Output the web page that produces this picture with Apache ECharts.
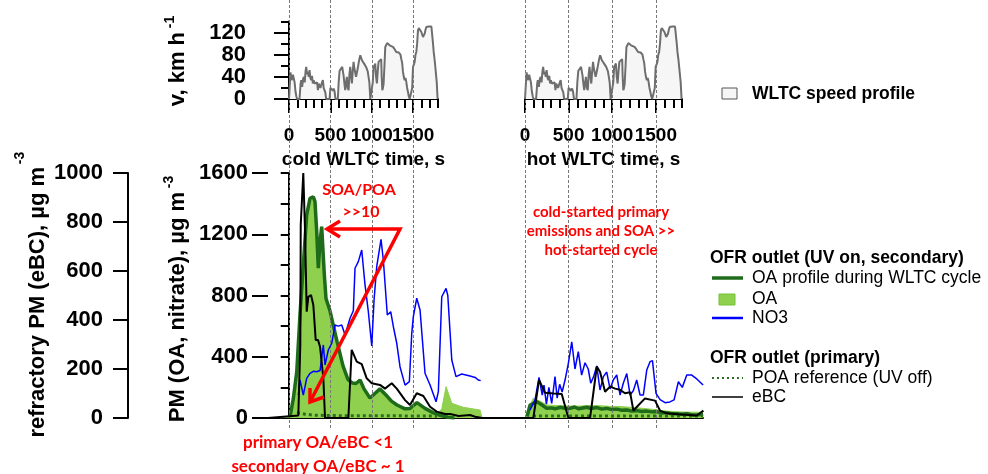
<!DOCTYPE html>
<html>
<head>
<meta charset="utf-8">
<script src="https://cdn.jsdelivr.net/npm/echarts@6/dist/echarts.min.js"></script>
<style>
  html, body { margin: 0; padding: 0; background: #fff; }
  #chart { width: 988px; height: 474px; }
</style>
</head>
<body>
<div id="chart"></div>
<script>
// WLTC speed profile (cycle time s, km/h) - same for cold and hot run
const speedT = [0,12,18,28,38,48,58,68,79,90,98,127,140,147,159,169,179,190,200,208,218,228,238,248,258,268,278,288,298,308,318,329,339,349,359,369,379,389,399,409,419,429,439,449,490,500,510,520,530,540,550,562,590,600,611,627,643,651,659,669,679,689,699,709,720,730,740,750,760,770,780,790,800,810,820,830,840,850,861,871,881,891,901,911,921,931,941,951,961,971,982,1002,1012,1022,1032,1042,1052,1062,1072,1082,1092,1102,1114,1120,1127,1135,1143,1153,1163,1175,1185,1196,1206,1216,1236,1256,1276,1296,1316,1326,1337,1347,1357,1367,1377,1387,1397,1407,1417,1427,1437,1447,1458,1478,1488,1498,1508,1518,1528,1538,1548,1558,1568,1578,1588,1599,1609,1619,1629,1639,1649,1659,1669,1679,1690,1699,1710,1720,1732,1740,1748,1760,1772,1785,1795,1800];
const speedV = [0,0,48,38,34,44,41,30,13,4,0,0,28,34,22,35,40,30,50,58,45,49,40,52,38,34,42,28,34,28,30,25,30,16,28,30,20,22,30,34,20,19,12,0,0,20,21,23,15,19,14,0,0,30,51,50,58,50,43,28,16,30,40,20,16,45,58,40,28,50,67,55,52,40,40,55,64,72,79,75,70,72,67,63,61,58,58,50,49,30,0,0,30,58,60,64,40,28,50,67,70,70,72,40,16,20,28,60,94,97,101,101,99,97,97,94,90,85,82,84,82,80,72,65,49,40,34,38,31,20,13,5,0,0,20,58,62,67,80,85,100,124,128,130,125,121,118,112,115,118,125,130,128,131,131,132,130,131,128,100,85,70,67,30,0,0];

// cycle marks (dashed lines, labelled ticks), s
const cycleMarks = [0, 500, 1000, 1500];

// lower panel: elapsed time s (hot cycle starts near 2850 s)
// OA profile during WLTC cycle (dark green line), ug/m3
const oaLineT = [16,56,97,136,176,217,257,297,317,338,357,378,398,418,430,450,498,583,655,716,770,812,861,909,981,1040,1102,1174,1240,1307,1404,1464,1548,1645,1741,1826,1922,2000,2400,2877,2913,2993,3045,3114,3170,3214,3280,3340,3395,3450,3500,3597,3650,3721,3780,3842,3900,3963,4020,4080,4140,4204,4260,4325,4380,4442,4500,4562,4620,4687,4750,4808,4870,4925,5001];
const oaLineV = [8,128,302,673,999,1326,1435,1445,1413,1217,978,1151,1250,1239,934,780,700,500,340,250,228,225,248,190,130,160,190,150,110,85,60,62,100,63,35,18,5,0,null,10,85,106,90,63,66,60,70,62,63,72,60,70,62,68,58,63,55,58,50,52,45,48,42,45,40,42,33,35,28,28,24,28,20,20,25];

// OA (light green area), ug/m3
const oaFillT = [-105,-20,16,56,97,136,176,217,257,297,317,338,357,378,398,418,430,450,498,583,655,716,770,812,861,909,981,1040,1102,1174,1240,1307,1404,1464,1548,1645,1741,1800,1847,1899,1968,2107,2309,2329,2333,2400,2852,2877,2952,3033,3114,3200,3275,3400,3516,3640,3757,3880,3999,4120,4240,4330,4421,4490,4562,4640,4723,4850,4965,5001];
const oaFillV = [0,8,12,128,302,673,999,1326,1435,1445,1413,1217,978,1151,1250,1239,934,780,700,500,340,250,228,225,248,190,130,160,190,150,110,85,60,62,100,63,35,30,60,205,96,70,52,50,0,null,0,40,129,110,85,82,80,78,78,82,80,76,75,70,65,60,55,50,45,42,40,38,38,40];

// POA reference (UV off), ug/m3
const poaT = [100,197,317,620,1343,1790,2400,2948,5001];
const poaV = [35,25,18,15,14,12,null,13,13];

// NO3, ug/m3
const no3T = [116,136,176,217,257,297,338,378,418,438,478,519,559,599,640,680,740,780,800,840,881,921,961,1002,1030,1062,1114,1142,1190,1231,1263,1304,1343,1404,1456,1485,1504,1545,1585,1645,1706,1778,1806,1847,1899,1920,1968,2019,2088,2188,2250,2288,2317,2600,2913,2973,3021,3060,3081,3110,3140,3174,3214,3240,3270,3300,3335,3375,3416,3455,3495,3535,3576,3615,3645,3680,3718,3757,3798,3838,3878,3919,3959,3999,4040,4080,4120,4160,4200,4240,4280,4321,4361,4390,4433,4482,4542,4600,4651,4703,4750,4804,4860,4925,5001];
const no3V = [150,248,150,259,292,305,302,310,477,346,444,488,607,600,607,542,651,700,978,1021,1097,869,694,470,771,988,1167,1032,673,694,596,488,335,215,237,553,662,782,705,292,215,106,172,792,847,800,379,270,287,274,265,248,244,null,52,118,266,150,215,90,200,96,270,130,220,170,248,357,498,320,433,280,361,320,227,270,340,183,270,300,190,250,281,150,230,290,150,180,248,150,150,313,368,375,161,120,100,105,118,237,200,281,281,255,215];

// eBC (refractory PM), ug/m3
const ebcT = [-250,116,140,145,176,197,217,237,269,297,326,354,378,398,418,438,720,760,821,881,941,1002,1102,1162,1243,1304,1404,1464,1545,1625,1706,1786,1887,1950,2050,2188,2250,2333,2952,3021,3093,3200,3295,3375,3637,3718,3757,3818,3878,3940,3999,4059,4120,4160,4200,4300,4421,4482,4562,4700,4925,5005];
const ebcV = [0,10,300,788,1000,760,434,495,502,461,318,318,291,291,162,0,0,278,230,220,162,142,135,120,142,120,73,53,101,90,46,26,16,16,8,12,5,0,0,155,103,100,98,0,0,210,189,107,128,120,115,101,105,30,45,80,71,30,19,15,10,30];

const pairs = (t, v) => t.map((x, i) => [x, v[i]]);

const FONT = 'Liberation Sans';
const RED = '#ff0000';
const plain = (v) => String(v);
const bold = (size) => ({ fontFamily: FONT, fontWeight: 'bold', fontSize: size, color: '#000' });
const tickLabel = (size, extra) => Object.assign({ formatter: plain, hideOverlap: false, showMinLabel: true, showMaxLabel: true }, bold(size), extra);

const chart = echarts.init(document.getElementById('chart'));

// the 1000 and 1500 labels touch, so they sit on separate overlaid axes
function topXAxes(grid, name) {
  const base = { type: 'value', gridIndex: grid, position: 'bottom', min: 0, max: 1800, splitLine: { show: false } };
  return [
    Object.assign({}, base, {
      interval: 100,
      axisLine: { lineStyle: { color: '#000', width: 2 } },
      axisTick: { length: 9, lineStyle: { color: '#000', width: 2 } },
      axisLabel: { show: false }
    }),
    Object.assign({}, base, {
      interval: 500,
      axisLine: { show: false },
      axisTick: { length: 14, customValues: cycleMarks, lineStyle: { color: '#000', width: 2 } },
      axisLabel: tickLabel(19, { customValues: cycleMarks.filter((v, i) => i % 2 === 0), margin: 27 }),
      name: name, nameLocation: 'middle', nameGap: 51, nameTextStyle: bold(19)
    }),
    Object.assign({}, base, {
      interval: 500,
      axisLine: { show: false },
      axisTick: { show: false },
      axisLabel: tickLabel(19, { customValues: cycleMarks.filter((v, i) => i % 2 === 1), margin: 27 })
    })
  ];
}

function guideSeries(xi, yi) {
  return {
    type: 'line', xAxisIndex: xi, yAxisIndex: yi, data: [[0, 0]], showSymbol: false, silent: true, z: 0,
    lineStyle: { opacity: 0 },
    markLine: {
      silent: true, symbol: ['none', 'none'], label: { show: false },
      lineStyle: { type: [3, 2], color: '#777', width: 1 },
      data: cycleMarks.map(v => ({ xAxis: v }))
    }
  };
}

const hiddenAxis = (grid, min, max) => ({
  type: 'value', gridIndex: grid, min: min, max: max, show: false
});

const option = {
  animation: false,
  grid: [
    { left: 289, top: 21.5, width: 149, height: 77.5 },
    { left: 525, top: 21.5, width: 157, height: 77.5 },
    { left: 268, top: 173, width: 435, height: 245 },
    { left: 289, top: 0, width: 149, height: 428 },
    { left: 525, top: 0, width: 157, height: 428 }
  ],
  // x axes: 0-2 cold speed, 3-5 hot speed, 6 lower panel, 7-8 dashed guides
  xAxis: [
    ...topXAxes(0, 'cold WLTC time, s'),
    ...topXAxes(1, 'hot WLTC time, s'),
    {
      type: 'value', gridIndex: 2, position: 'bottom', offset: 10, min: -250, max: 5000,
      axisLine: { lineStyle: { color: '#000', width: 2 } },
      axisTick: { show: false }, axisLabel: { show: false }, splitLine: { show: false }
    },
    hiddenAxis(3, 0, 1800),
    hiddenAxis(4, 0, 1800)
  ],
  yAxis: [
    {
      type: 'value', gridIndex: 0, position: 'left', offset: 21, min: 0, max: 140, interval: 20,
      axisLine: { show: true, lineStyle: { color: '#000', width: 2 } },
      axisTick: { show: true, length: 8, lineStyle: { color: '#000', width: 2 } },
      axisLabel: { show: false }, splitLine: { show: false }
    },
    {
      type: 'value', gridIndex: 0, position: 'left', offset: 21, min: 0, max: 140, interval: 20,
      axisLine: { show: false },
      axisTick: { show: true, length: 15, customValues: [0, 40, 80, 120], lineStyle: { color: '#000', width: 2 } },
      axisLabel: tickLabel(22, { customValues: [0, 40, 80, 120], margin: 22 }),
      splitLine: { show: false }
    },
    hiddenAxis(1, 0, 140),
    {
      type: 'value', gridIndex: 2, position: 'left', min: 0, max: 1600, interval: 200,
      axisLine: { show: true, lineStyle: { color: '#000', width: 2 } },
      axisTick: { show: true, length: 8, lineStyle: { color: '#000', width: 2 } },
      axisLabel: { show: false }, splitLine: { show: false }
    },
    {
      type: 'value', gridIndex: 2, position: 'left', min: 0, max: 1600, interval: 200,
      axisLine: { show: false },
      axisTick: { show: true, length: 16, customValues: [0, 400, 800, 1200, 1600], lineStyle: { color: '#000', width: 2 } },
      axisLabel: tickLabel(22, { customValues: [0, 400, 800, 1200, 1600], margin: 20 }),
      splitLine: { show: false }
    },
    {
      type: 'value', gridIndex: 2, position: 'left', offset: 140, min: 0, max: 1000, interval: 200,
      axisLine: { show: true, lineStyle: { color: '#000', width: 2 } },
      axisTick: { show: true, length: 15, lineStyle: { color: '#000', width: 2 } },
      axisLabel: tickLabel(22, { margin: 25 }),
      splitLine: { show: false }
    },
    hiddenAxis(3, 0, 1),
    hiddenAxis(4, 0, 1)
  ],
  series: [
    guideSeries(7, 6),
    guideSeries(8, 7),
    {
      name: 'WLTC cold', type: 'line', xAxisIndex: 0, yAxisIndex: 0, data: pairs(speedT, speedV),
      showSymbol: false, lineStyle: { color: '#6e6e6e', width: 2 }, areaStyle: { color: '#f6f6f6', opacity: 1 }, z: 3
    },
    {
      name: 'WLTC hot', type: 'line', xAxisIndex: 3, yAxisIndex: 2, data: pairs(speedT, speedV),
      showSymbol: false, lineStyle: { color: '#6e6e6e', width: 2 }, areaStyle: { color: '#f6f6f6', opacity: 1 }, z: 3
    },
    {
      name: 'OA', type: 'line', xAxisIndex: 6, yAxisIndex: 3, data: pairs(oaFillT, oaFillV),
      showSymbol: false, lineStyle: { color: '#8fd14f', width: 1 }, areaStyle: { color: '#8fd14f', opacity: 1 }, z: 3
    },
    {
      name: 'OA profile during WLTC cycle', type: 'line', xAxisIndex: 6, yAxisIndex: 3, data: pairs(oaLineT, oaLineV),
      showSymbol: false, lineStyle: { color: '#1e6b1a', width: 3.5 }, z: 4
    },
    {
      name: 'POA reference (UV off)', type: 'line', xAxisIndex: 6, yAxisIndex: 3, data: pairs(poaT, poaV),
      showSymbol: false, lineStyle: { color: '#2e6e22', width: 3, type: [3, 3] }, z: 5
    },
    {
      name: 'NO3', type: 'line', xAxisIndex: 6, yAxisIndex: 3, data: pairs(no3T, no3V),
      showSymbol: false, lineStyle: { color: '#0000ff', width: 1.5 }, z: 5
    },
    {
      name: 'eBC', type: 'line', xAxisIndex: 6, yAxisIndex: 5, data: pairs(ebcT, ebcV),
      showSymbol: false, lineStyle: { color: '#000', width: 2 }, z: 6
    }
  ],
  graphic: [
    // axis titles
    { type: 'text', x: 38, y: 167, rotation: Math.PI / 2, style: { text: 'refractory PM (eBC), µg m', align: 'right', verticalAlign: 'middle', font: 'bold 22px "Liberation Sans"', fill: '#000' } },
    { type: 'text', x: 20, y: 158, rotation: Math.PI / 2, style: { text: '-3', align: 'center', verticalAlign: 'middle', font: 'bold 14px "Liberation Sans"', fill: '#000' } },
    { type: 'text', x: 178, y: 192, rotation: Math.PI / 2, style: { text: 'PM (OA, nitrate), µg m', align: 'right', verticalAlign: 'middle', font: 'bold 22px "Liberation Sans"', fill: '#000' } },
    { type: 'text', x: 169, y: 182, rotation: Math.PI / 2, style: { text: '-3', align: 'center', verticalAlign: 'middle', font: 'bold 14px "Liberation Sans"', fill: '#000' } },
    { type: 'text', x: 178, y: 32, rotation: Math.PI / 2, style: { text: 'v, km h', align: 'right', verticalAlign: 'middle', font: 'bold 22px "Liberation Sans"', fill: '#000' } },
    { type: 'text', x: 170, y: 22, rotation: Math.PI / 2, style: { text: '-1', align: 'center', verticalAlign: 'middle', font: 'bold 14px "Liberation Sans"', fill: '#000' } },

    // speed legend
    { type: 'rect', shape: { x: 722, y: 88, width: 15, height: 11 }, style: { fill: '#f6f6f6', stroke: '#555', lineWidth: 1 } },
    { type: 'text', x: 752, y: 94, style: { text: 'WLTC speed profile', verticalAlign: 'middle', font: 'bold 17.5px "Liberation Sans"', fill: '#000' } },

    // PM legend
    { type: 'text', x: 710, y: 258, style: { text: 'OFR outlet (UV on, secondary)', verticalAlign: 'middle', font: 'bold 17.5px "Liberation Sans"', fill: '#000' } },
    { type: 'line', shape: { x1: 712, y1: 278, x2: 743, y2: 278 }, style: { stroke: '#1e6b1a', lineWidth: 3.5 } },
    { type: 'text', x: 752, y: 278, style: { text: 'OA profile during WLTC cycle', verticalAlign: 'middle', font: '17.5px "Liberation Sans"', fill: '#000' } },
    { type: 'rect', shape: { x: 719, y: 294, width: 16, height: 11 }, style: { fill: '#8fd14f', stroke: '#74c234', lineWidth: 1 } },
    { type: 'text', x: 752, y: 299, style: { text: 'OA', verticalAlign: 'middle', font: '17.5px "Liberation Sans"', fill: '#000' } },
    { type: 'line', shape: { x1: 712, y1: 318, x2: 743, y2: 318 }, style: { stroke: '#0000ff', lineWidth: 2.5 } },
    { type: 'text', x: 752, y: 318, style: { text: 'NO3', verticalAlign: 'middle', font: '17.5px "Liberation Sans"', fill: '#000' } },
    { type: 'text', x: 710, y: 358, style: { text: 'OFR outlet (primary)', verticalAlign: 'middle', font: 'bold 17.5px "Liberation Sans"', fill: '#000' } },
    { type: 'line', shape: { x1: 712, y1: 378, x2: 743, y2: 378 }, style: { stroke: '#2e6e22', lineWidth: 2, lineDash: [2, 3] } },
    { type: 'text', x: 752, y: 378, style: { text: 'POA reference (UV off)', verticalAlign: 'middle', font: '17.5px "Liberation Sans"', fill: '#000' } },
    { type: 'line', shape: { x1: 712, y1: 397, x2: 743, y2: 397 }, style: { stroke: '#000', lineWidth: 1.5 } },
    { type: 'text', x: 752, y: 397, style: { text: 'eBC', verticalAlign: 'middle', font: '17.5px "Liberation Sans"', fill: '#000' } },

    // red annotations
    { type: 'text', x: 359, y: 190, z: 20, style: { text: 'SOA/POA', align: 'center', verticalAlign: 'middle', font: 'bold 16px Lato', fill: RED } },
    { type: 'text', x: 361, y: 212, z: 20, style: { text: '>>10', align: 'center', verticalAlign: 'middle', font: 'bold 16px Lato', fill: RED } },
    { type: 'polyline', z: 20, shape: { points: [[327, 229], [400, 229], [310, 402]] }, style: { stroke: RED, lineWidth: 3.5, fill: null, lineJoin: 'miter' } },
    { type: 'polyline', z: 20, shape: { points: [[340, 221], [327, 229], [340, 237]] }, style: { stroke: RED, lineWidth: 3.5, fill: null } },
    { type: 'polyline', z: 20, shape: { points: [[310, 388], [310, 402], [324, 397]] }, style: { stroke: RED, lineWidth: 3.5, fill: null } },
    { type: 'text', x: 601, y: 231, z: 20, style: { text: 'cold-started primary\nemissions and SOA >>\nhot-started cycle', align: 'center', verticalAlign: 'middle', lineHeight: 19, font: 'bold 15px Lato', fill: RED } },
    { type: 'text', x: 318, y: 455, z: 20, style: { text: 'primary OA/eBC <1\nsecondary OA/eBC ~ 1', align: 'center', verticalAlign: 'middle', lineHeight: 24, font: 'bold 17px Lato', fill: RED } }
  ]
};

chart.setOption(option);
</script>
</body>
</html>
